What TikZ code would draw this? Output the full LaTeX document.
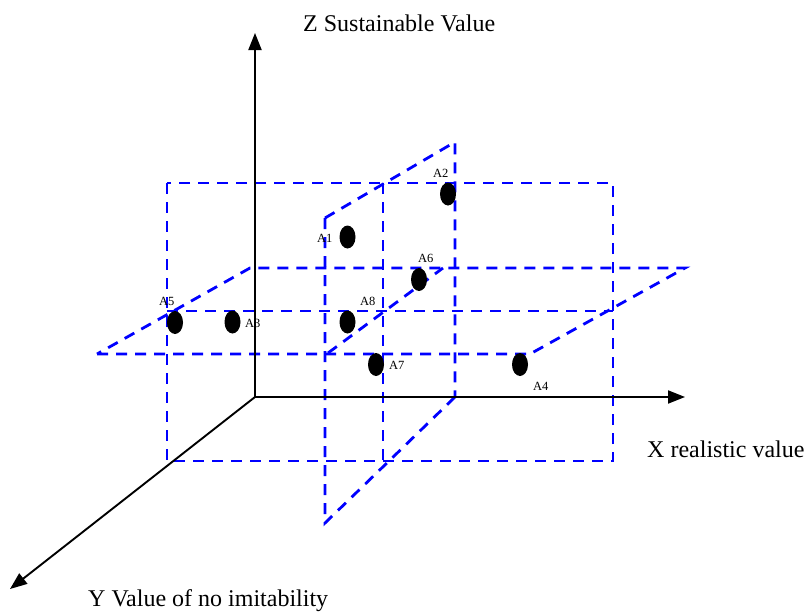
\documentclass[tikz,border=0pt]{standalone}
\usepackage{fontspec}
\setmainfont{Liberation Serif}
\usetikzlibrary{arrows.meta,shapes.geometric}
\begin{document}
\begin{tikzpicture}[x=1pt,y=-1pt,
  plane/.style={draw={rgb,255:red,0;green,0;blue,255},line width=2.8pt,dash pattern=on 11pt off 8pt},
  axis/.style={draw=black,line width=1.9pt,-{Triangle[length=17pt,width=13pt]}},
  dot/.style={ellipse,fill=black,minimum width=16pt,minimum height=23pt,inner sep=0pt},
  lab/.style={font=\fontsize{12.5}{13}\selectfont,anchor=base west,inner sep=0pt},
  title/.style={font=\fontsize{24}{26}\selectfont,anchor=base west,inner sep=0pt}]
\useasboundingbox (0,0) rectangle (811,611);
% coordinates
\coordinate (O) at (255,397);
\coordinate (Zend) at (255,33);
\coordinate (Xend) at (685,397);
\coordinate (Yend) at (10,589);
% XZ rectangle
\draw[plane] (167,183) rectangle (613,461);
% horizontal plane
\draw[plane] (97,354) -- (530,354) -- (685,268) -- (250,268) -- cycle;
\draw[plane] (167,311) -- (613,311);
% YZ plane
\draw[plane] (325,218) -- (455,142) -- (455,397);
\draw[plane] (455,397) -- (325,523) -- (325,218);
\draw[plane] (383,183) -- (383,461);
\draw[plane] (328,353) -- (443,268);
% axes
\draw[axis] (O) -- (Zend);
\draw[axis] (O) -- (Xend);
\draw[axis] (O) -- (Yend);
% titles
\node[title] (tz) at (303,31.5) {Z Sustainable Value};
\node[title] (tx) at (647,457) {X realistic value};
\node[title] (ty) at (88,606) {Y Value of no imitability};
% dots
\node[dot] (a1) at (347.5,237) {};
\node[dot] (a2) at (448,194) {};
\node[dot] (a3) at (232.5,322) {};
\node[dot] (a4) at (520,364.5) {};
\node[dot] (a5) at (175,322.5) {};
\node[dot] (a6) at (419,279.5) {};
\node[dot] (a7) at (376,364.5) {};
\node[dot] (a8) at (347.5,322) {};
% labels
\node[lab] (l1) at (317,242) {A1};
\node[lab] (l2) at (433,177) {A2};
\node[lab] (l3) at (245,327) {A3};
\node[lab] (l4) at (533,390) {A4};
\node[lab] (l5) at (159,305) {A5};
\node[lab] (l6) at (418,262) {A6};
\node[lab] (l7) at (389,369) {A7};
\node[lab] (l8) at (360,305) {A8};
\end{tikzpicture}
\end{document}
